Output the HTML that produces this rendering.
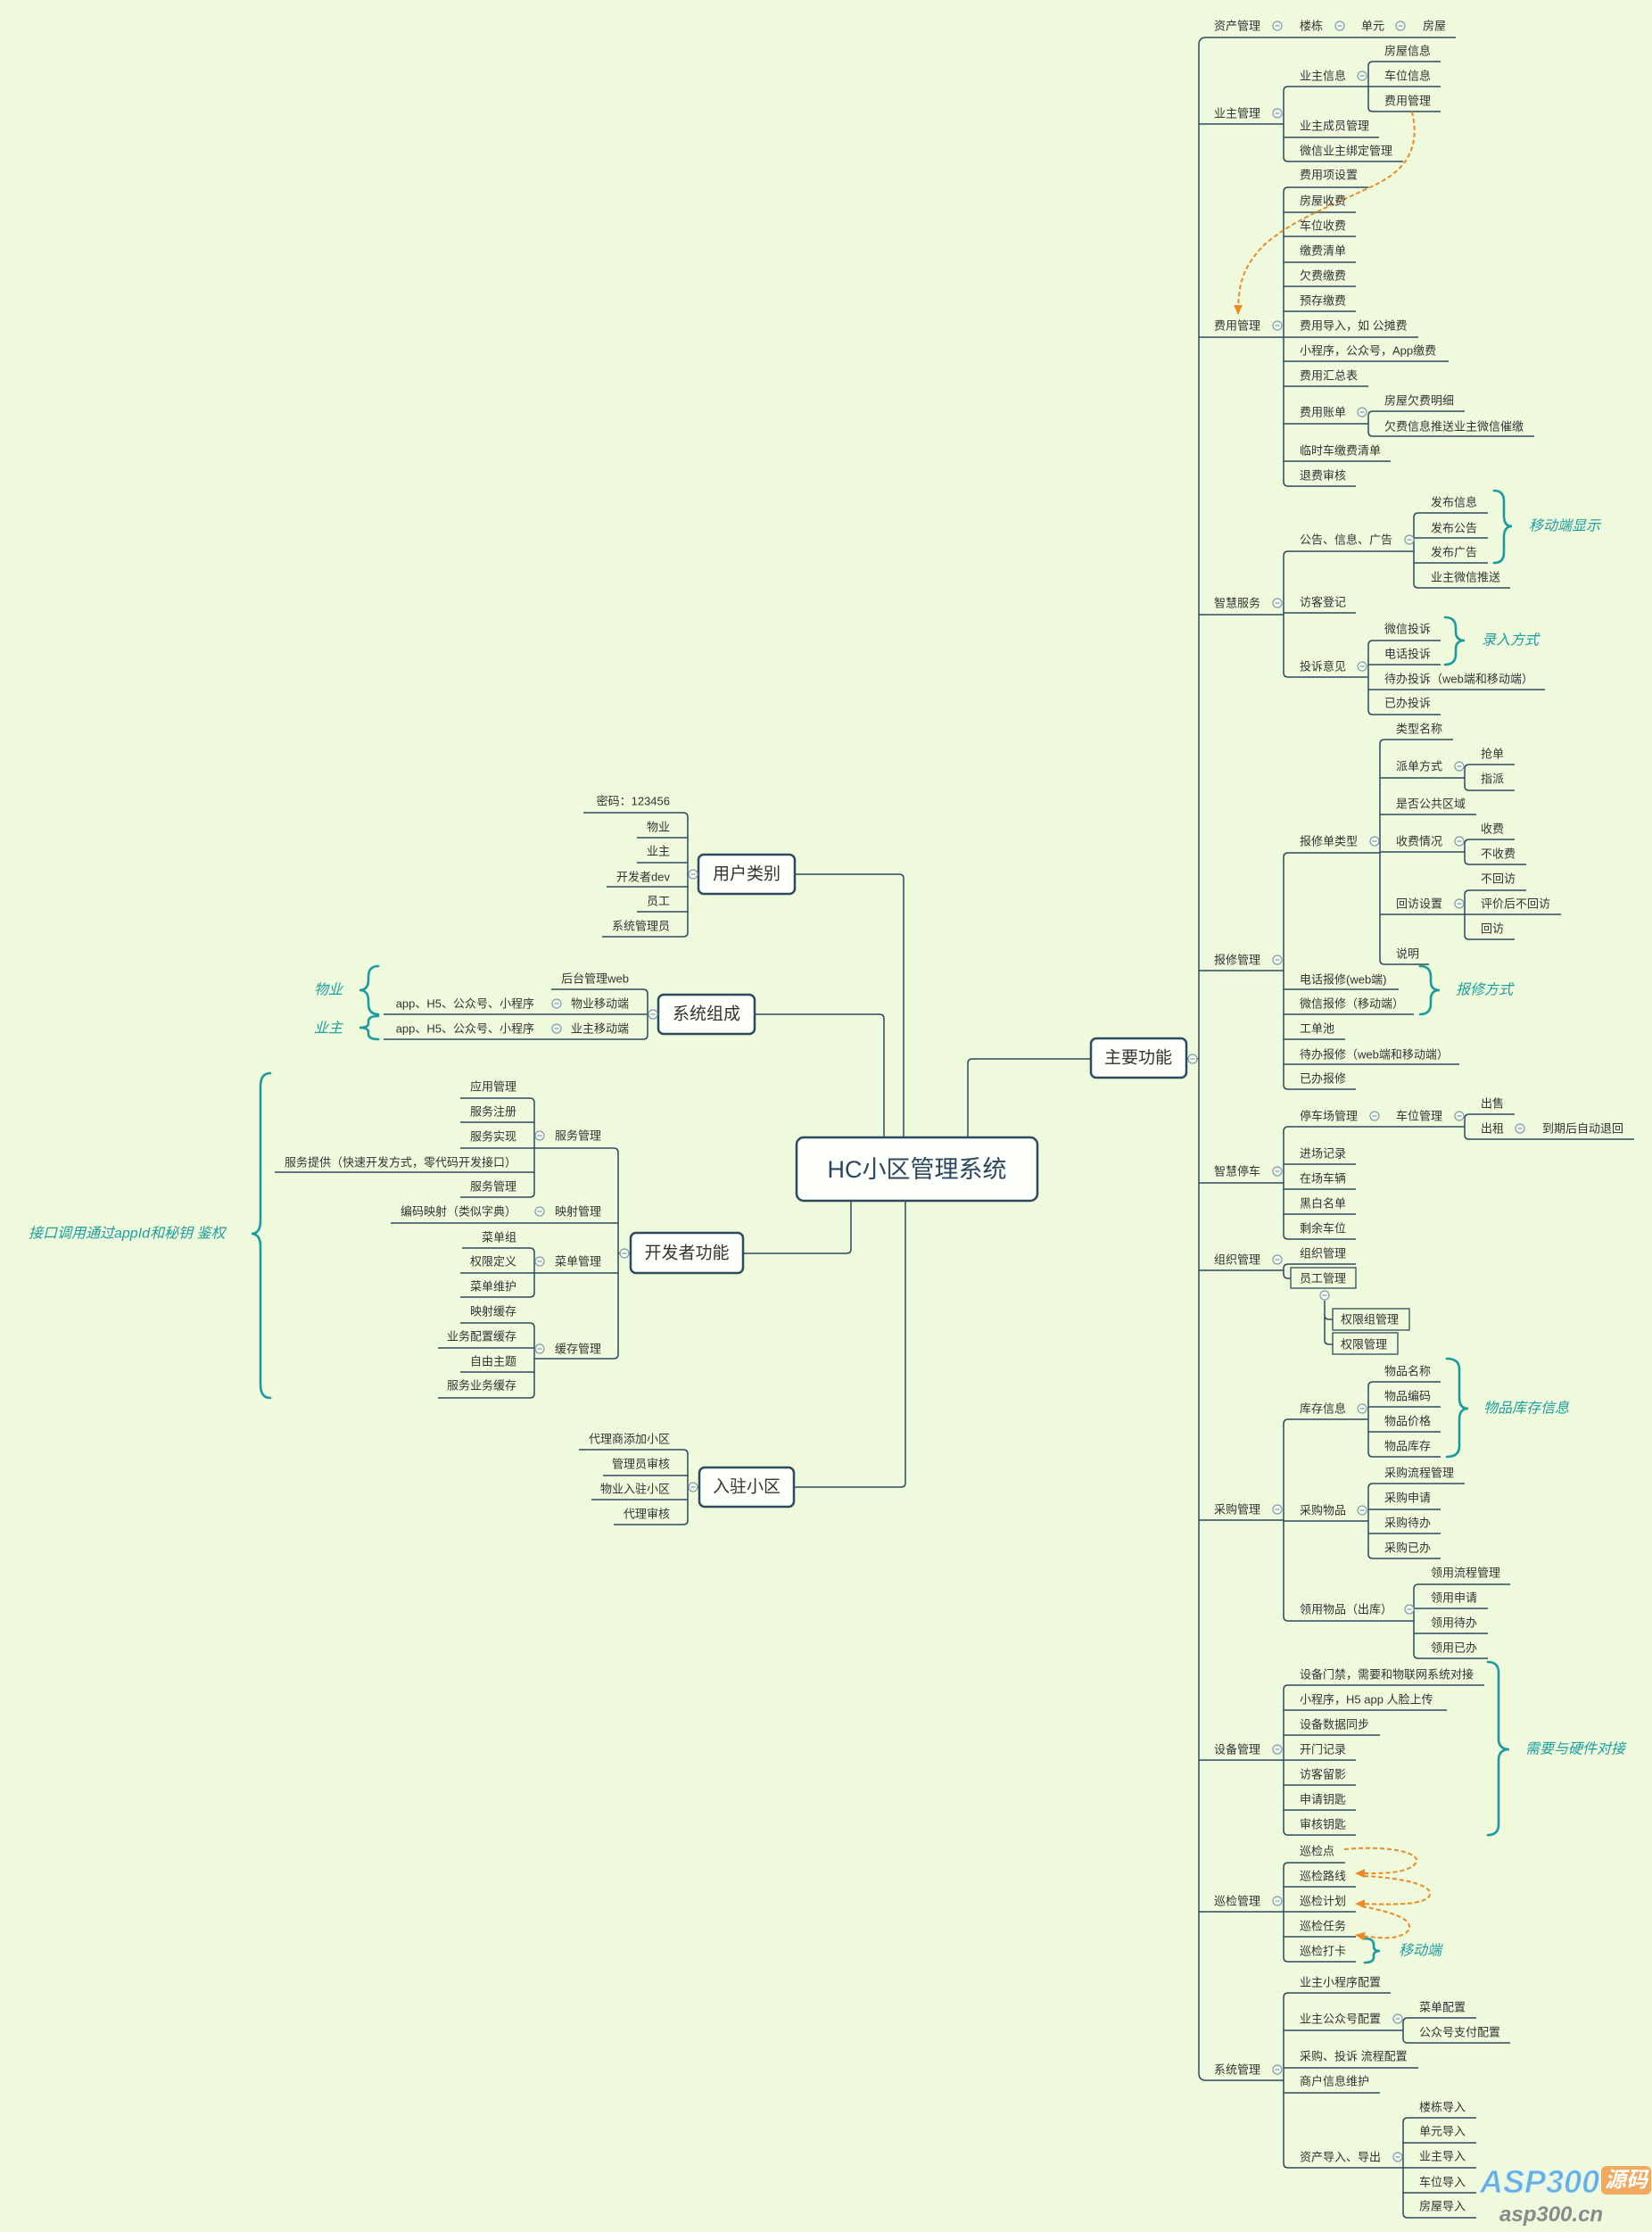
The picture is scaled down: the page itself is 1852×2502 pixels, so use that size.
<!DOCTYPE html>
<html><head><meta charset="utf-8"><style>
html,body{margin:0;padding:0;background:#effadd;}
svg{display:block;}
.t{font-family:"Liberation Sans","Noto Sans CJK SC",sans-serif;font-size:13px;fill:#333;dominant-baseline:central;}
.e{text-anchor:end;}
.b{font-family:"Liberation Sans","Noto Sans CJK SC",sans-serif;font-size:19px;fill:#333;dominant-baseline:central;text-anchor:middle;}
.lb{font-family:"Liberation Sans","Noto Sans CJK SC",sans-serif;font-size:16px;font-style:italic;fill:#1e9c9e;dominant-baseline:central;}
.l{stroke:#2d4a5f;stroke-width:1.5;fill:none;}
.br{stroke:#1b9aa0;stroke-width:2.6;fill:none;stroke-linecap:round;}
.d{stroke:#ee8a22;stroke-width:2;fill:none;stroke-dasharray:5 3;}
.n{fill:#fdfffb;stroke:#2d4a5f;stroke-width:2.5;}
.s{fill:none;stroke:#2d4a5f;stroke-width:1.3;}
</style></head><body>
<svg width="1852" height="2502" viewBox="0 0 1852 2502" xmlns="http://www.w3.org/2000/svg">
<defs>
<g id="m"><circle r="5" fill="#f4fbe8" stroke="#7f9bb0" stroke-width="1.2"/><path d="M-2.5,0H2.5" stroke="#7f9bb0" stroke-width="1.2"/></g>
<marker id="ar" markerWidth="11" markerHeight="10" refX="10" refY="5" orient="auto" markerUnits="userSpaceOnUse"><path d="M0,0 L11,5 L0,10 z" fill="#ee8a22"/></marker>
</defs>
<rect width="1852" height="2502" fill="#effadd"/>

<!-- central connectors -->
<path class="l" d="M891,980H1008Q1013,980 1013,985V1275 M846,1137H986Q991,1137 991,1142V1275 M1223,1187H1090Q1085,1187 1085,1192V1275 M833,1405H949Q954,1405 954,1400V1346 M890,1667H1010Q1015,1667 1015,1662V1346"/>

<!-- right main -->
<path class="l" d="M1352,42Q1344,42 1344,50V2324Q1344,2332 1352,2332 M1352,42H1632 M1344,139H1439 M1344,378H1439 M1344,689H1439 M1344,1088H1439 M1344,1326H1439 M1344,1424H1439 M1344,1704H1439 M1344,1973H1439 M1344,2143H1439 M1352,2332H1439 M1330,1187H1344"/>
<path class="l" d="M1444,97Q1439,97 1439,102V176Q1439,181 1444,181 M1444,97H1534 M1439,154H1546 M1444,181H1573"/>
<path class="l" d="M1539,69Q1534,69 1534,74V120Q1534,125 1539,125 M1539,69H1615 M1534,97H1615 M1539,125H1615"/>
<path class="l" d="M1444,210Q1439,210 1439,215V540Q1439,545 1444,545 M1444,210H1534 M1439,238H1520 M1439,265H1520 M1439,294H1520 M1439,321H1520 M1439,349H1520 M1439,378H1590 M1439,405H1624 M1439,433H1534 M1439,475H1534 M1439,517H1559 M1444,545H1520"/>
<path class="l" d="M1539,461Q1534,461 1534,466V484Q1534,489 1539,489 M1539,461H1642 M1539,489H1720"/>
<path class="l" d="M1444,618Q1439,618 1439,623V754Q1439,759 1444,759 M1444,618H1585 M1439,687H1520 M1444,759H1534"/>
<path class="l" d="M1590,575Q1585,575 1585,580V654Q1585,659 1590,659 M1590,575H1668 M1585,603H1668 M1585,631H1668 M1590,659H1693"/>
<path class="l" d="M1539,718Q1534,718 1534,723V796Q1534,801 1539,801 M1539,718H1615 M1534,745H1615 M1534,773H1732 M1539,801H1615"/>
<path class="l" d="M1444,956Q1439,956 1439,961V1216Q1439,1221 1444,1221 M1444,956H1547 M1439,1109H1568 M1439,1137H1585 M1439,1165H1508 M1439,1193H1636 M1444,1221H1520"/>
<path class="l" d="M1552,829Q1547,829 1547,834V1076Q1547,1081 1552,1081 M1552,829H1629 M1547,872H1642 M1547,913H1655 M1547,955H1642 M1547,1025H1642 M1552,1081H1602"/>
<path class="l" d="M1647,857Q1642,857 1642,862V881Q1642,886 1647,886 M1647,857H1698 M1647,886H1698"/>
<path class="l" d="M1647,941Q1642,941 1642,946V964Q1642,969 1647,969 M1647,941H1698 M1647,969H1711"/>
<path class="l" d="M1647,998Q1642,998 1642,1003V1048Q1642,1053 1647,1053 M1647,998H1711 M1642,1025H1750 M1647,1053H1698"/>
<path class="l" d="M1444,1263Q1439,1263 1439,1268V1384Q1439,1389 1444,1389 M1444,1263H1642 M1439,1305H1520 M1439,1333H1520 M1439,1361H1520 M1444,1389H1520"/>
<path class="l" d="M1647,1249Q1642,1249 1642,1254V1272Q1642,1277 1647,1277 M1647,1249H1698 M1647,1277H1832"/>
<path class="l" d="M1444,1417Q1439,1417 1439,1422V1428Q1439,1433 1444,1433H1447 M1444,1417H1520"/>
<path class="l" d="M1485,1458V1502Q1485,1507 1490,1507H1494 M1485,1474Q1485,1479 1490,1479H1494"/>
<path class="l" d="M1444,1591Q1439,1591 1439,1596V1812Q1439,1817 1444,1817 M1444,1591H1534 M1439,1705H1534 M1444,1817H1585"/>
<path class="l" d="M1539,1549Q1534,1549 1534,1554V1628Q1534,1633 1539,1633 M1539,1549H1615 M1534,1577H1615 M1534,1605H1615 M1539,1633H1615"/>
<path class="l" d="M1539,1663Q1534,1663 1534,1668V1742Q1534,1747 1539,1747 M1539,1663H1642 M1534,1692H1615 M1534,1719H1615 M1539,1747H1615"/>
<path class="l" d="M1590,1776Q1585,1776 1585,1781V1854Q1585,1859 1590,1859 M1590,1776H1693 M1585,1803H1668 M1585,1831H1668 M1590,1859H1668"/>
<path class="l" d="M1444,1889Q1439,1889 1439,1894V2052Q1439,2057 1444,2057 M1444,1889H1664 M1439,1917H1622 M1439,1945H1547 M1439,1973H1520 M1439,2001H1520 M1439,2029H1520 M1444,2057H1520"/>
<path class="l" d="M1444,2088Q1439,2088 1439,2093V2194Q1439,2199 1444,2199 M1444,2088H1508 M1439,2115H1520 M1439,2143H1520 M1439,2171H1520 M1444,2199H1520"/>
<path class="l" d="M1444,2234Q1439,2234 1439,2239V2425Q1439,2430 1444,2430 M1444,2234H1559 M1439,2276H1573 M1439,2318H1590 M1439,2346H1547 M1444,2430H1573"/>
<path class="l" d="M1578,2262Q1573,2262 1573,2267V2285Q1573,2290 1578,2290 M1578,2262H1655 M1578,2290H1693"/>
<path class="l" d="M1578,2374Q1573,2374 1573,2379V2481Q1573,2486 1578,2486 M1578,2374H1655 M1573,2402H1655 M1573,2430H1655 M1573,2458H1655 M1578,2486H1655"/>

<!-- left -->
<path class="l" d="M766,911Q771,911 771,916V1045Q771,1050 766,1050 M766,911H654 M771,939H714 M771,967H714 M771,994H680 M771,1022H714 M766,1050H675 M771,980H783"/>
<path class="l" d="M721,1109Q726,1109 726,1114V1160Q726,1165 721,1165 M721,1109H618 M726,1137H430 M721,1165H430 M726,1137H738"/>
<path class="l" d="M688,1287Q693,1287 693,1292V1518Q693,1523 688,1523 M688,1287H599 M693,1371H438 M693,1427H599 M688,1523H599 M693,1405H707"/>
<path class="l" d="M594,1231Q599,1231 599,1236V1337Q599,1342 594,1342 M594,1231H516 M599,1258H516 M599,1287H516 M599,1314H308 M594,1342H516"/>
<path class="l" d="M594,1399Q599,1399 599,1404V1449Q599,1454 594,1454 M594,1399H518 M599,1427H516 M594,1454H516"/>
<path class="l" d="M594,1483Q599,1483 599,1488V1562Q599,1567 594,1567 M594,1483H516 M599,1511H491 M599,1538H516 M594,1567H491"/>
<path class="l" d="M766,1625Q771,1625 771,1630V1704Q771,1709 766,1709 M766,1625H649 M771,1654H676 M771,1681H663 M766,1709H688 M771,1667H784"/>

<!-- braces -->
<path class="br" d="M1675,550Q1686,550 1686,562V578Q1686,590 1695,590Q1686,590 1686,602V619Q1686,631 1675,631"/>
<path class="br" d="M1620,692Q1632,692 1632,704V708Q1632,718 1642,718Q1632,718 1632,728V733Q1632,745 1620,745"/>
<path class="br" d="M1592,1083Q1604,1083 1604,1095V1100Q1604,1110 1614,1110Q1604,1110 1604,1120V1125Q1604,1137 1592,1137"/>
<path class="br" d="M1622,1523Q1636,1523 1636,1535V1567Q1636,1579 1646,1579Q1636,1579 1636,1591V1621Q1636,1633 1622,1633"/>
<path class="br" d="M1668,1863Q1680,1863 1680,1875V1949Q1680,1961 1692,1961Q1680,1961 1680,1973V2045Q1680,2057 1668,2057"/>
<path class="br" d="M1530,2173Q1540,2173 1540,2180V2182Q1540,2187 1547,2187Q1540,2187 1540,2192V2194Q1540,2200 1530,2200"/>
<path class="br" d="M424,1083Q413,1083 413,1095V1098Q413,1110 403,1110Q413,1110 413,1122V1125Q413,1137 424,1137"/>
<path class="br" d="M424,1139Q413,1139 413,1145V1147Q413,1152 403,1152Q413,1152 413,1157V1159Q413,1165 424,1165"/>
<path class="br" d="M303,1203Q292,1203 292,1218V1368Q292,1383 282,1383Q292,1383 292,1398V1552Q292,1567 303,1567"/>

<!-- dashed arrows -->
<path class="d" marker-end="url(#ar)" d="M1583,125C1592,165 1578,190 1540,208C1490,232 1440,250 1412,280C1392,303 1388,322 1388,352"/>
<path class="d" marker-end="url(#ar)" d="M1507,2073C1560,2068 1600,2078 1585,2091C1572,2101 1545,2100 1520,2100"/>
<path class="d" marker-end="url(#ar)" d="M1529,2103C1575,2105 1610,2114 1602,2126C1594,2136 1560,2135 1520,2134"/>
<path class="d" marker-end="url(#ar)" d="M1527,2137C1560,2143 1588,2152 1578,2165C1568,2175 1545,2173 1520,2169"/>

<!-- node boxes -->
<rect class="n" x="893" y="1275" width="270" height="71" rx="8"/>
<text x="1028" y="1311" style="font-family:'Liberation Sans','Noto Sans CJK SC',sans-serif;font-size:27px;fill:#2b4760;dominant-baseline:central;text-anchor:middle;">HC小区管理系统</text>
<rect class="n" x="1223" y="1164" width="107" height="44" rx="6"/><text class="b" x="1276" y="1186">主要功能</text>
<rect class="n" x="783" y="958" width="108" height="44" rx="6"/><text class="b" x="837" y="980">用户类别</text>
<rect class="n" x="738" y="1115" width="108" height="44" rx="6"/><text class="b" x="792" y="1137">系统组成</text>
<rect class="n" x="707" y="1382" width="126" height="45" rx="6"/><text class="b" x="770" y="1405">开发者功能</text>
<rect class="n" x="784" y="1645" width="106" height="44" rx="6"/><text class="b" x="837" y="1667">入驻小区</text>
<rect class="s" x="1447" y="1421" width="73" height="23"/>
<rect class="s" x="1494" y="1467" width="86" height="24"/>
<rect class="s" x="1494" y="1494" width="73" height="24"/>

<!-- collapse circles -->
<use href="#m" x="1432" y="29"/><use href="#m" x="1502" y="29"/><use href="#m" x="1570" y="29"/>
<use href="#m" x="1432" y="127"/><use href="#m" x="1432" y="365"/><use href="#m" x="1432" y="676"/>
<use href="#m" x="1432" y="1076"/><use href="#m" x="1432" y="1313"/><use href="#m" x="1432" y="1412"/>
<use href="#m" x="1432" y="1692"/><use href="#m" x="1432" y="1961"/><use href="#m" x="1432" y="2131"/><use href="#m" x="1432" y="2320"/>
<use href="#m" x="1527" y="85"/><use href="#m" x="1527" y="462"/><use href="#m" x="1580" y="605"/><use href="#m" x="1527" y="747"/>
<use href="#m" x="1541" y="943"/><use href="#m" x="1541" y="1251"/><use href="#m" x="1636" y="1251"/>
<use href="#m" x="1527" y="1579"/><use href="#m" x="1527" y="1693"/><use href="#m" x="1580" y="1804"/>
<use href="#m" x="1567" y="2263"/><use href="#m" x="1567" y="2418"/>
<use href="#m" x="1636" y="859"/><use href="#m" x="1636" y="943"/><use href="#m" x="1636" y="1013"/><use href="#m" x="1704" y="1265"/>
<use href="#m" x="1485" y="1452"/><use href="#m" x="1337" y="1187"/>
<use href="#m" x="777" y="980"/><use href="#m" x="732" y="1137"/><use href="#m" x="700" y="1405"/><use href="#m" x="777" y="1667"/>
<use href="#m" x="624" y="1125"/><use href="#m" x="624" y="1153"/>
<use href="#m" x="605" y="1273"/><use href="#m" x="605" y="1358"/><use href="#m" x="605" y="1414"/><use href="#m" x="605" y="1512"/>

<!-- right texts level1 -->
<g class="t">
<text x="1361" y="29">资产管理</text><text x="1457" y="29">楼栋</text><text x="1526" y="29">单元</text><text x="1595" y="29">房屋</text>
<text x="1361" y="127">业主管理</text>
<text x="1361" y="365">费用管理</text>
<text x="1361" y="676">智慧服务</text>
<text x="1361" y="1076">报修管理</text>
<text x="1361" y="1313">智慧停车</text>
<text x="1361" y="1412">组织管理</text>
<text x="1361" y="1692">采购管理</text>
<text x="1361" y="1961">设备管理</text>
<text x="1361" y="2131">巡检管理</text>
<text x="1361" y="2320">系统管理</text>

<text x="1457" y="85">业主信息</text><text x="1457" y="141">业主成员管理</text><text x="1457" y="169">微信业主绑定管理</text>
<text x="1552" y="57">房屋信息</text><text x="1552" y="85">车位信息</text><text x="1552" y="113">费用管理</text>

<text x="1457" y="196">费用项设置</text><text x="1457" y="225">房屋收费</text><text x="1457" y="253">车位收费</text>
<text x="1457" y="281">缴费清单</text><text x="1457" y="309">欠费缴费</text><text x="1457" y="337">预存缴费</text>
<text x="1457" y="365">费用导入，如 公摊费</text><text x="1457" y="393">小程序，公众号，App缴费</text>
<text x="1457" y="421">费用汇总表</text><text x="1457" y="462">费用账单</text>
<text x="1457" y="505">临时车缴费清单</text><text x="1457" y="533">退费审核</text>
<text x="1552" y="449">房屋欠费明细</text><text x="1552" y="478">欠费信息推送业主微信催缴</text>

<text x="1457" y="605">公告、信息、广告</text><text x="1457" y="675">访客登记</text><text x="1457" y="747">投诉意见</text>
<text x="1604" y="563">发布信息</text><text x="1604" y="592">发布公告</text><text x="1604" y="619">发布广告</text><text x="1604" y="647">业主微信推送</text>
<text x="1552" y="705">微信投诉</text><text x="1552" y="733">电话投诉</text><text x="1552" y="761">待办投诉（web端和移动端）</text><text x="1552" y="788">已办投诉</text>

<text x="1457" y="943">报修单类型</text><text x="1457" y="1098">电话报修(web端)</text><text x="1457" y="1125">微信报修（移动端）</text>
<text x="1457" y="1153">工单池</text><text x="1457" y="1182">待办报修（web端和移动端）</text><text x="1457" y="1209">已办报修</text>
<text x="1565" y="817">类型名称</text><text x="1565" y="859">派单方式</text><text x="1565" y="901">是否公共区域</text>
<text x="1565" y="943">收费情况</text><text x="1565" y="1013">回访设置</text><text x="1565" y="1069">说明</text>
<text x="1660" y="845">抢单</text><text x="1660" y="873">指派</text><text x="1660" y="929">收费</text><text x="1660" y="957">不收费</text>
<text x="1660" y="985">不回访</text><text x="1660" y="1013">评价后不回访</text><text x="1660" y="1041">回访</text>

<text x="1457" y="1251">停车场管理</text><text x="1565" y="1251">车位管理</text>
<text x="1660" y="1237">出售</text><text x="1660" y="1265">出租</text><text x="1729" y="1265">到期后自动退回</text>
<text x="1457" y="1293">进场记录</text><text x="1457" y="1321">在场车辆</text><text x="1457" y="1349">黑白名单</text><text x="1457" y="1377">剩余车位</text>

<text x="1457" y="1405">组织管理</text><text x="1457" y="1433">员工管理</text>
<text x="1503" y="1479">权限组管理</text><text x="1503" y="1507">权限管理</text>

<text x="1457" y="1579">库存信息</text><text x="1457" y="1693">采购物品</text><text x="1457" y="1804">领用物品（出库）</text>
<text x="1552" y="1537">物品名称</text><text x="1552" y="1565">物品编码</text><text x="1552" y="1593">物品价格</text><text x="1552" y="1621">物品库存</text>
<text x="1552" y="1651">采购流程管理</text><text x="1552" y="1679">采购申请</text><text x="1552" y="1707">采购待办</text><text x="1552" y="1735">采购已办</text>
<text x="1604" y="1763">领用流程管理</text><text x="1604" y="1791">领用申请</text><text x="1604" y="1819">领用待办</text><text x="1604" y="1847">领用已办</text>

<text x="1457" y="1877">设备门禁，需要和物联网系统对接</text><text x="1457" y="1905">小程序，H5 app 人脸上传</text>
<text x="1457" y="1933">设备数据同步</text><text x="1457" y="1961">开门记录</text><text x="1457" y="1989">访客留影</text>
<text x="1457" y="2017">申请钥匙</text><text x="1457" y="2045">审核钥匙</text>

<text x="1457" y="2075">巡检点</text><text x="1457" y="2103">巡检路线</text><text x="1457" y="2131">巡检计划</text>
<text x="1457" y="2159">巡检任务</text><text x="1457" y="2187">巡检打卡</text>

<text x="1457" y="2222">业主小程序配置</text><text x="1457" y="2263">业主公众号配置</text><text x="1457" y="2305">采购、投诉 流程配置</text>
<text x="1457" y="2333">商户信息维护</text><text x="1457" y="2418">资产导入、导出</text>
<text x="1591" y="2250">菜单配置</text><text x="1591" y="2278">公众号支付配置</text>
<text x="1591" y="2362">楼栋导入</text><text x="1591" y="2389">单元导入</text><text x="1591" y="2417">业主导入</text>
<text x="1591" y="2446">车位导入</text><text x="1591" y="2473">房屋导入</text>
</g>

<!-- left texts -->
<g class="t e">
<text x="751" y="898">密码：123456</text><text x="751" y="927">物业</text><text x="751" y="954">业主</text>
<text x="751" y="983">开发者dev</text><text x="751" y="1010">员工</text><text x="751" y="1038">系统管理员</text>
<text x="705" y="1097">后台管理web</text><text x="705" y="1125">物业移动端</text><text x="705" y="1153">业主移动端</text>
<text x="599" y="1125">app、H5、公众号、小程序</text><text x="599" y="1153">app、H5、公众号、小程序</text>
<text x="579" y="1218">应用管理</text><text x="579" y="1246">服务注册</text><text x="579" y="1274">服务实现</text>
<text x="579" y="1303">服务提供（快速开发方式，零代码开发接口）</text><text x="579" y="1330">服务管理</text>
<text x="579" y="1358">编码映射（类似字典）</text>
<text x="579" y="1387">菜单组</text><text x="579" y="1414">权限定义</text><text x="579" y="1442">菜单维护</text>
<text x="579" y="1470">映射缓存</text><text x="579" y="1498">业务配置缓存</text><text x="579" y="1526">自由主题</text><text x="579" y="1553">服务业务缓存</text>
<text x="751" y="1613">代理商添加小区</text><text x="751" y="1641">管理员审核</text><text x="751" y="1669">物业入驻小区</text><text x="751" y="1697">代理审核</text>
</g>
<g class="t">
<text x="622" y="1273">服务管理</text><text x="622" y="1358">映射管理</text><text x="622" y="1414">菜单管理</text><text x="622" y="1512">缓存管理</text>
</g>

<!-- teal labels -->
<g class="lb">
<text x="1714" y="590">移动端显示</text>
<text x="1661" y="718">录入方式</text>
<text x="1632" y="1110">报修方式</text>
<text x="1663" y="1579">物品库存信息</text>
<text x="1710" y="1961">需要与硬件对接</text>
<text x="1568" y="2187">移动端</text>
<text x="352" y="1110">物业</text>
<text x="352" y="1153">业主</text>
<text x="32" y="1383">接口调用通过appId和秘钥 鉴权</text>
</g>

<!-- watermark -->
<text x="1659" y="2458" style="font-family:'Liberation Sans',sans-serif;font-size:36px;font-weight:bold;font-style:italic;fill:#62b1e2;stroke:#dff0fa;stroke-width:1;">ASP300</text>
<rect x="1795" y="2428" width="56" height="32" rx="6" fill="#f2a85e"/>
<text x="1823" y="2444" style="font-family:'Liberation Sans','Noto Sans CJK SC',sans-serif;font-size:24px;font-weight:bold;font-style:italic;fill:#fff;dominant-baseline:central;text-anchor:middle;">源码</text>
<text x="1681" y="2490" style="font-family:'Liberation Sans',sans-serif;font-size:24px;font-weight:bold;font-style:italic;fill:#8a8a8a;">asp300.cn</text>
</svg>
</body></html>
